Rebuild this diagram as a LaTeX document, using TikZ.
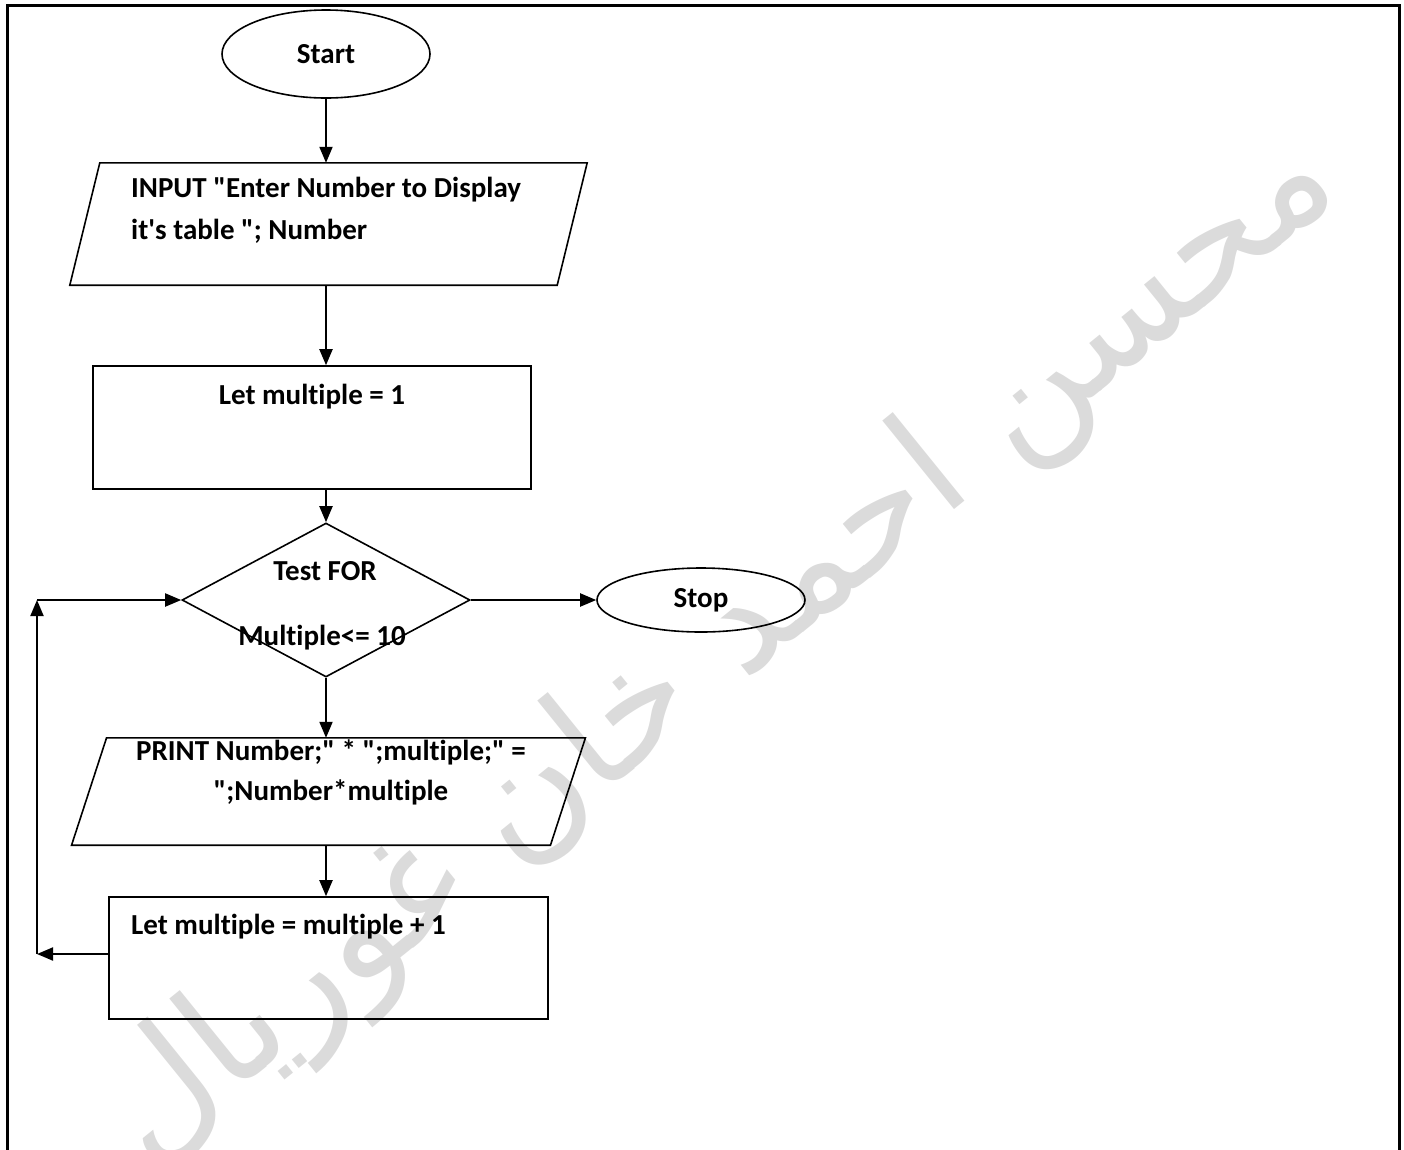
\documentclass[tikz,border=0pt]{standalone}
\usepackage{fontspec}
\setmainfont{Carlito}[Ligatures={TeXOff}, RawFeature={-liga;-clig;-dlig}]
\newfontfamily\arabicfont[Script=Arabic]{DejaVu Sans}
\TeXXeTstate=1
\usetikzlibrary{shapes.geometric,arrows.meta}

\begin{document}
\begin{tikzpicture}[x=1pt,y=-1pt,
  every node/.style={font=\bfseries\fontsize{29}{42}\selectfont},
  shape line/.style={draw, line width=1.6pt},
  terminal/.style={shape line, ellipse, inner sep=0pt},
  procbox/.style={shape line, rectangle, inner sep=0pt},
  iobox/.style={rectangle, inner sep=0pt},
  decision/.style={shape line, diamond, inner sep=0pt},
  label/.style={inner sep=0pt},
  flow/.style={line width=2pt, -{Triangle[length=16pt,width=13pt]}}
]
\useasboundingbox (0,0) rectangle (1404,1149);

% signature watermark behind the chart
\begin{scope}
  \clip (0,0) rectangle (1404,1149);
  \node[rotate=39, text=black!14, font=\arabicfont\fontsize{150}{150}\selectfont]
    (sign) at (720,650) {\beginR محسن احمد خان غوریال\endR};
\end{scope}

% page frame (open at the bottom)
\draw[line width=3pt] (7,1160) -- (7,5.5) -- (1399.5,5.5) -- (1399.5,1160);

% Start
\node[terminal, minimum width=208, minimum height=88] (start) at (326,54) {Start};

% INPUT parallelogram
\node[iobox, minimum width=487, minimum height=122] (input) at (328.5,224) {};
\draw[line width=1.6pt] ([xshift=15]input.north west) -- ([xshift=15]input.north east)
  -- ([xshift=-15]input.south east) -- ([xshift=-15]input.south west) -- cycle;
\node[label, anchor=north west, align=left] (inputt) at (131,177)
  {INPUT "Enter Number to Display\\it's table "; Number};

% Let multiple = 1
\node[procbox, minimum width=438, minimum height=123] (init) at (312,427.5) {};
\node[label] (initt) at (312,397) {Let multiple = 1};

% decision
\node[decision, minimum width=288, minimum height=154] (test) at (326,600) {};
\node[label] (testa) at (325,571) {Test FOR};
\node[label] (testb) at (322,638) {Multiple<= 10};

% Stop
\node[terminal, minimum width=208, minimum height=64] (stop) at (701,600) {Stop};

% PRINT parallelogram
\node[iobox, minimum width=478.5, minimum height=107] (print) at (328.5,791.5) {};
\draw[line width=1.6pt] ([xshift=17.5]print.north west) -- ([xshift=17.5]print.north east)
  -- ([xshift=-17.5]print.south east) -- ([xshift=-17.5]print.south west) -- cycle;
\node[label, align=center, font=\bfseries\fontsize{29}{40}\selectfont] (printt) at (331,772)
  {PRINT Number;" * ";multiple;" =\\ ";Number*multiple};

% Let multiple = multiple + 1
\node[procbox, minimum width=439, minimum height=122] (incr) at (328.5,958) {};
\node[label, anchor=west] (incrt) at (131,927) {Let multiple = multiple + 1};

% loop-back corners
\coordinate (lb) at (37,954);
\coordinate (lt) at (37,600);

% connectors
\draw[flow] (start.south) -- (start.south |- input.north);
\draw[flow] (input.south -| start.south) -- (start.south |- init.north);
\draw[flow] (init.south -| start.south) -- (test.north);
\draw[flow] (test.east) -- (stop.west);
\draw[flow] (test.south) -- (test.south |- print.north);
\draw[flow] (print.south -| test.south) -- (test.south |- incr.north);
\draw[flow] (incr.west |- lb) -- (lb);
\draw[flow] (lb) -- (lt);
\draw[flow] (lt) -- (test.west);
\end{tikzpicture}
\end{document}
